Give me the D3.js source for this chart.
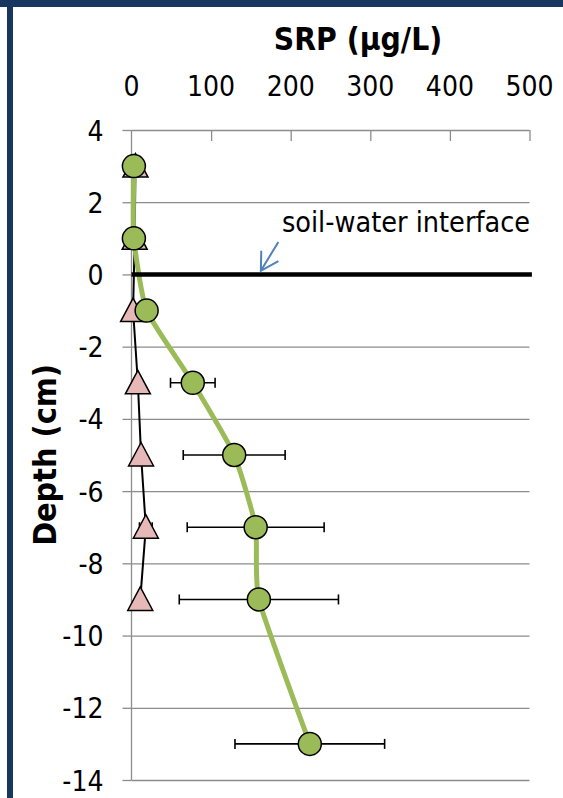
<!DOCTYPE html>
<html>
<head>
<meta charset="utf-8">
<script src="https://cdn.jsdelivr.net/npm/d3@7"></script>
<style>
    html, body { margin: 0; padding: 0; background: #ffffff; }
    #chart { width: 563px; height: 798px; }
    text { font-family: "DejaVu Sans Condensed", "DejaVu Sans", sans-serif; font-stretch: condensed; fill: #000000; }
</style>
</head>
<body>
<div id="chart"></div>
<script>
/****************************************************** 
 * SRP depth profile
 * Porewater SRP vs depth below soil-water interface
*******************************************************/

//! CONSTANTS
const CHART_ID = "chart";
const WIDTH = 563;
const HEIGHT = 798;

const BORDER_COLOR = "#17375e";
const GRID_COLOR = "#8c8c8c";
const GREEN = "#9bbb59";
const PINK = "#e6b9b8";
const ARROW_COLOR = "#4f81bd";

//! DATA
// x axis (SRP, ug/L) and y axis (depth, cm) ticks
const X_TICKS = [0, 100, 200, 300, 400, 500];
const Y_TICKS = [4, 2, 0, -2, -4, -6, -8, -10, -12, -14];

// green series (circles, with error bars)
const CIRCLE_DEPTH = [3, 1, -1, -3, -5, -7, -9, -13];
const CIRCLE_SRP = [3, 3, 19, 77, 129, 156, 160, 224];
const CIRCLE_ERR = [0, 0, 5, 28, 64, 86, 100, 94];

// pink series (triangles)
const TRIANGLE_DEPTH = [3, 1, -1, -3, -5, -7, -9];
const TRIANGLE_SRP = [5, 4, 2, 8, 12, 18, 11];
const TRIANGLE_ERR = [1, 1, 1, 2, 3, 8, 3];

// soil-water interface
const INTERFACE_DEPTH = 0;
const INTERFACE_LABEL = "soil-water interface";

/****************************************************** 
 * Main draw function
*******************************************************/
function draw() {
    const svg = d3.select("#" + CHART_ID)
        .append("svg")
        .attr("width", WIDTH)
        .attr("height", HEIGHT);

    // Frame (dark blue border top and left)
    svg.append("rect").attr("x", 0).attr("y", 0)
        .attr("width", WIDTH).attr("height", 7).attr("fill", BORDER_COLOR);
    svg.append("rect").attr("x", 7).attr("y", 0)
        .attr("width", 6).attr("height", HEIGHT).attr("fill", BORDER_COLOR);

    const x = d3.scaleLinear().domain([0, 500]).range([131.5, 529.5]);
    const y = d3.scaleLinear().domain([-14, 4]).range([780, 130]);

    drawAxes(svg, x, y);
    drawTriangles(svg, x, y);
    drawCircles(svg, x, y);
    drawInterface(svg, x, y);
    drawTitles(svg);
}

/****************************************************** 
 * Gridlines, axis lines, ticks and tick labels
*******************************************************/
function drawAxes(svg, x, y) {
    // horizontal gridlines + left ticks
    svg.append("g")
        .attr("transform", "translate(" + x(0) + ",0)")
        .call(d3.axisLeft(y).tickValues(Y_TICKS)
            .tickSize(-(x(500) - x(0))).tickFormat(""))
        .call(g => g.select(".domain").remove())
        .call(g => g.selectAll("line").attr("stroke", GRID_COLOR).attr("stroke-width", 1.3));

    svg.append("g")
        .attr("transform", "translate(" + x(0) + ",0)")
        .call(d3.axisLeft(y).tickValues(Y_TICKS).tickSize(9).tickPadding(19)
            .tickFormat(d => d < 0 ? "-" + Math.abs(d) : d))
        .call(g => g.select(".domain").remove())
        .call(g => g.selectAll("line").attr("stroke", GRID_COLOR).attr("stroke-width", 1.3))
        .call(g => g.selectAll("text")
            .style("font-size", "28px")
            .attr("dy", "0.36em"));

    // vertical axis line
    svg.append("line")
        .attr("x1", x(0)).attr("x2", x(0))
        .attr("y1", y(4)).attr("y2", y(-14))
        .attr("stroke", GRID_COLOR).attr("stroke-width", 1.3);

    // top x axis, ticks pointing down
    svg.append("g")
        .attr("transform", "translate(0," + y(4) + ")")
        .call(d3.axisBottom(x).tickValues(X_TICKS.slice(1)).tickSize(11).tickFormat(""))
        .call(g => g.select(".domain").remove())
        .call(g => g.selectAll("line").attr("stroke", GRID_COLOR).attr("stroke-width", 1.3));

    svg.append("g")
        .attr("transform", "translate(0,96)")
        .selectAll("text")
        .data(X_TICKS)
        .enter().append("text")
        .attr("x", d => x(d))
        .attr("text-anchor", "middle")
        .style("font-size", "28px")
        .text(d => d);
}

/****************************************************** 
 * Horizontal error bars helper
*******************************************************/
function drawErrorBars(svg, x, y, depths, values, errs) {
    const rows = depths.map((d, i) => ({ depth: d, v: values[i], e: errs[i] }))
        .filter(r => r.e > 0);
    const g = svg.append("g")
        .attr("stroke", "#000000")
        .attr("stroke-width", 1.6);
    g.selectAll("line.bar")
        .data(rows)
        .enter().append("line")
        .attr("x1", d => x(d.v - d.e)).attr("x2", d => x(d.v + d.e))
        .attr("y1", d => y(d.depth)).attr("y2", d => y(d.depth));
    [-1, 1].forEach(side => {
        g.selectAll("line.cap" + side)
            .data(rows)
            .enter().append("line")
            .attr("x1", d => x(d.v + side * d.e)).attr("x2", d => x(d.v + side * d.e))
            .attr("y1", d => y(d.depth) - 5).attr("y2", d => y(d.depth) + 5);
    });
}

/****************************************************** 
 * Pink triangle series with thin black line
*******************************************************/
function drawTriangles(svg, x, y) {
    const pts = TRIANGLE_DEPTH.map((d, i) => ({ depth: d, v: TRIANGLE_SRP[i] }));

    const line = d3.line()
        .x(d => x(d.v))
        .y(d => y(d.depth));

    svg.append("path")
        .datum(pts)
        .attr("d", line)
        .attr("fill", "none")
        .attr("stroke", "#000000")
        .attr("stroke-width", 2);

    drawErrorBars(svg, x, y, TRIANGLE_DEPTH, TRIANGLE_SRP, TRIANGLE_ERR);

    svg.selectAll("path.tri")
        .data(pts)
        .enter().append("path")
        .attr("d", "M0,-12.5L12.5,11L-12.5,11Z")
        .attr("transform", d => "translate(" + x(d.v) + "," + y(d.depth) + ")")
        .attr("fill", PINK)
        .attr("stroke", "#000000")
        .attr("stroke-width", 1.5);
}

/****************************************************** 
 * Green circle series with smooth thick line
*******************************************************/
function drawCircles(svg, x, y) {
    const pts = CIRCLE_DEPTH.map((d, i) => ({ depth: d, v: CIRCLE_SRP[i] }));

    const line = d3.line()
        .x(d => x(d.v))
        .y(d => y(d.depth))
        .curve(d3.curveCardinal.tension(0.5));

    svg.append("path")
        .datum(pts)
        .attr("d", line)
        .attr("fill", "none")
        .attr("stroke", GREEN)
        .attr("stroke-width", 5);

    drawErrorBars(svg, x, y, CIRCLE_DEPTH, CIRCLE_SRP, CIRCLE_ERR);

    svg.selectAll("circle.pt")
        .data(pts)
        .enter().append("circle")
        .attr("cx", d => x(d.v))
        .attr("cy", d => y(d.depth))
        .attr("r", 11.5)
        .attr("fill", GREEN)
        .attr("stroke", "#000000")
        .attr("stroke-width", 1.5);
}

/****************************************************** 
 * Soil-water interface line, label and arrow
*******************************************************/
function drawInterface(svg, x, y) {
    svg.append("line")
        .attr("x1", x(0)).attr("x2", x(503))
        .attr("y1", y(INTERFACE_DEPTH)).attr("y2", y(INTERFACE_DEPTH))
        .attr("stroke", "#000000")
        .attr("stroke-width", 4.5);

    svg.append("text")
        .attr("x", x(189))
        .attr("y", y(1.17))
        .style("font-size", "28.5px")
        .text(INTERFACE_LABEL);

    // arrow from label down to the line
    const tip = [x(162.5), y(0.1)];
    const tail = [x(184.5), y(0.9)];
    const ang = Math.atan2(tail[1] - tip[1], tail[0] - tip[0]);
    const arm = 20;
    const a1 = [tip[0] + arm * Math.cos(ang - Math.PI / 6), tip[1] + arm * Math.sin(ang - Math.PI / 6)];
    const a2 = [tip[0] + arm * Math.cos(ang + Math.PI / 6), tip[1] + arm * Math.sin(ang + Math.PI / 6)];

    svg.append("path")
        .attr("d", "M" + tail + "L" + tip + "M" + a1 + "L" + tip + "L" + a2)
        .attr("fill", "none")
        .attr("stroke", ARROW_COLOR)
        .attr("stroke-width", 2);
}

/****************************************************** 
 * Axis titles
*******************************************************/
function drawTitles(svg) {
    svg.append("text")
        .attr("x", 358)
        .attr("y", 50)
        .attr("text-anchor", "middle")
        .style("font-size", "31.5px")
        .style("font-weight", "bold")
        .text("SRP (\u00b5g/L)");

    svg.append("text")
        .attr("transform", "translate(56,455) rotate(-90)")
        .attr("text-anchor", "middle")
        .style("font-size", "32px")
        .style("font-weight", "bold")
        .text("Depth (cm)");
}

/****************************************************** 
 *!               Initial Draw Call
*******************************************************/
draw();
</script>
</body>
</html>
